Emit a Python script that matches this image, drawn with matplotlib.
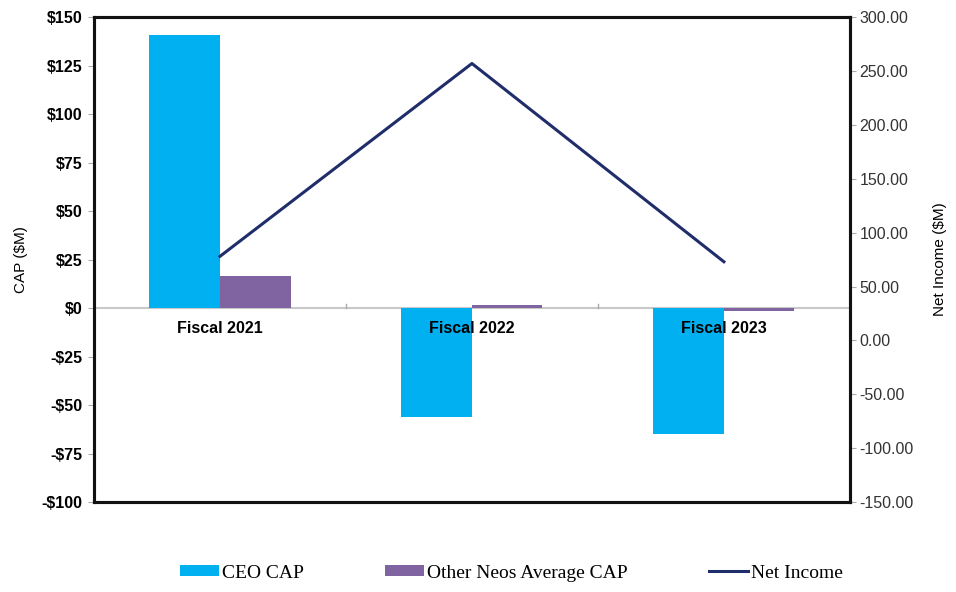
import matplotlib.pyplot as plt
import numpy as np

# data
years = ["Fiscal 2021", "Fiscal 2022", "Fiscal 2023"]
ceo_cap = [141, -56, -65]
other_neos_cap = [16.5, 1.5, -1.5]
net_income = [78, 257, 73]

left_ticks = [150, 125, 100, 75, 50, 25, 0, -25, -50, -75, -100]
right_ticks = [300, 250, 200, 150, 100, 50, 0, -50, -100, -150]

ceo_color = "#00B0F0"
neos_color = "#8064A2"
line_color = "#1F2D6B"

plt.rcParams['font.family'] = ['Liberation Sans', 'DejaVu Sans']

fig = plt.figure(figsize=(9.56, 5.92), dpi=100)
ax = fig.add_axes([0.0983, 0.152, 0.7907, 0.819])

x = np.arange(len(years))
w = 0.28
ax.bar(x - w / 2, ceo_cap, width=w, color=ceo_color, label="CEO CAP", zorder=2)
ax.bar(x + w / 2, other_neos_cap, width=w, color=neos_color, label="Other Neos Average CAP", zorder=2)
ax.axhline(0, color="#C8C8C8", lw=1.5, zorder=1)

ax.set_xlim(-0.5, 2.5)
ax.set_ylim(-100, 150)
ax.set_yticks(left_ticks)
ax.set_yticklabels([("-$%d" % -v) if v < 0 else ("$%d" % v) for v in left_ticks],
                   fontsize=11.5, fontweight="bold")
ax.set_xticks([])
ax.tick_params(axis="y", length=4, color="#AAAAAA", pad=4)
ax.set_ylabel("CAP ($M)", fontsize=11, labelpad=10)

for i, name in enumerate(years):
    ax.text(i, -6.5, name, ha="center", va="top", fontsize=11.5, fontweight="bold", zorder=4)
for b in [0.5, 1.5]:
    ax.plot([b, b], [0, 2], color="#AAAAAA", lw=1, zorder=1)

for s in ax.spines.values():
    s.set_linewidth(2.2)
    s.set_color("#111111")

ax2 = ax.twinx()
ax2.plot(x, net_income, color=line_color, lw=2.2, label="Net Income", zorder=3)
ax2.set_ylim(-150, 300)
ax2.set_yticks(right_ticks)
ax2.set_yticklabels(["%.2f" % v for v in right_ticks], fontsize=11.5, color="#333333")
ax2.tick_params(axis="y", length=4, color="#AAAAAA", pad=3)
ax2.set_ylabel("Net Income ($M)", fontsize=11, labelpad=14)
for s in ax2.spines.values():
    s.set_linewidth(2.2)
    s.set_color("#111111")

h1, l1 = ax.get_legend_handles_labels()
h2, l2 = ax2.get_legend_handles_labels()
fig.legend(h1 + h2, l1 + l2, loc="lower center", bbox_to_anchor=(0.535, -0.012), ncol=3,
           frameon=False, prop={"family": "Liberation Serif", "size": 14},
           columnspacing=4.2, handlelength=2.0, handleheight=0.5, handletextpad=0.15)

fig.savefig("out.png", dpi=100)
